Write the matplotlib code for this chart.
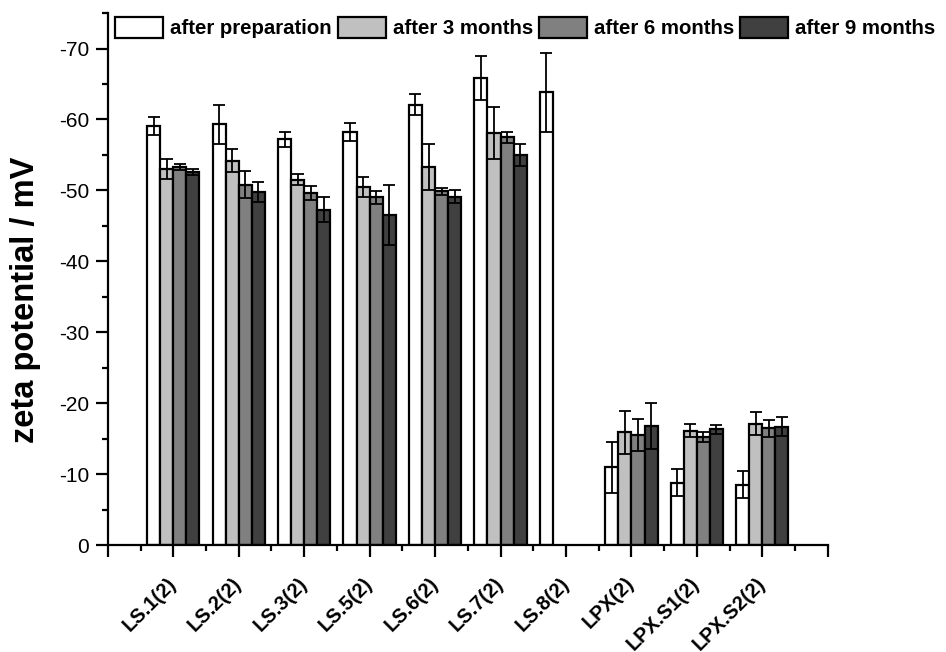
import matplotlib
matplotlib.use("Agg")
import matplotlib.pyplot as plt
import numpy as np
from matplotlib.ticker import MultipleLocator

plt.rcParams['font.family'] = ['Liberation Sans', 'DejaVu Sans']

samples = ["LS.1(2)", "LS.2(2)", "LS.3(2)", "LS.5(2)", "LS.6(2)", "LS.7(2)",
           "LS.8(2)", "LPX(2)", "LPX.S1(2)", "LPX.S2(2)"]
series = ["after preparation", "after 3 months", "after 6 months", "after 9 months"]

# zeta potential (mV) and standard deviations, nan = not measured
prep = [-59.1, -59.3, -57.2, -58.2, -62.1, -65.8, -63.8, -11.0, -8.8, -8.5]
prep_err = [1.3, 2.7, 1.1, 1.3, 1.5, 3.1, 5.5, 3.6, 1.9, 1.9]
m3 = [-53.0, -54.2, -51.5, -50.5, -53.3, -58.1, np.nan, -15.9, -16.1, -17.1]
m3_err = [1.4, 1.6, 0.8, 1.4, 3.2, 3.7, np.nan, 3.0, 0.9, 1.6]
m6 = [-53.3, -50.8, -49.6, -49.0, -49.9, -57.5, np.nan, -15.5, -15.3, -16.5]
m6_err = [0.4, 1.9, 1.0, 0.9, 0.5, 0.8, np.nan, 2.3, 0.7, 1.2]
m9 = [-52.6, -49.8, -47.3, -46.5, -49.1, -55.0, np.nan, -16.8, -16.3, -16.7]
m9_err = [0.4, 1.4, 1.8, 4.2, 0.9, 1.5, np.nan, 3.2, 0.6, 1.3]

values = [prep, m3, m6, m9]
errors = [prep_err, m3_err, m6_err, m9_err]
colors = ["white", "#c0c0c0", "#808080", "#404040"]

fig = plt.figure(figsize=(9.46, 6.52), dpi=100)
ax = fig.add_axes([0.114, 0.164, 0.761, 0.816])

x = np.arange(1, len(samples) + 1)
w = 0.2
for k in range(4):
    pos = x + (k - 1.5) * w
    ax.bar(pos, values[k], w, color=colors[k], edgecolor="black", linewidth=1.6,
           label=series[k], zorder=2)
    ax.errorbar(pos, values[k], yerr=errors[k], fmt="none", ecolor="black",
                elinewidth=1.3, capsize=4.3, capthick=1.3, zorder=3)

ax.set_xlim(0, 11)
ax.set_ylim(0, -75)
ax.yaxis.set_minor_locator(MultipleLocator(5))
ax.set_yticks(np.arange(0, -71, -10))
ax.set_yticklabels([f"{v:d}" for v in np.arange(0, -71, -10)], fontsize=15)

ax.set_xticks(np.arange(0, 12))
ax.set_xticklabels([""] + samples + [""], rotation=45, ha="right", va="center",
                   rotation_mode="anchor", fontsize=14.5, fontweight="bold")
ax.xaxis.set_minor_locator(MultipleLocator(0.5))

for s in ["top", "right"]:
    ax.spines[s].set_visible(False)
for s in ["left", "bottom"]:
    ax.spines[s].set_linewidth(1.6)
ax.tick_params(which="major", direction="out", length=8.5, width=1.6)
ax.tick_params(which="minor", direction="out", length=4, width=1.6)
ax.tick_params(axis="x", which="major", pad=17)
ax.tick_params(axis="y", which="major", pad=5)

ax.set_ylabel("zeta potential / mV", fontsize=23.5, fontweight="bold", va="center")
ax.yaxis.set_label_coords(-0.114, 0.461)

leg = ax.legend(loc="upper left", bbox_to_anchor=(115 / 946, 1 - 17 / 652),
                bbox_transform=fig.transFigure, ncol=4, frameon=False,
                prop={"weight": "bold", "size": 14.7}, handlelength=2.35,
                handleheight=1.2, handletextpad=0.34, columnspacing=0.3,
                borderaxespad=0.0, borderpad=0.0)

fig.savefig("out.png", dpi=100)
